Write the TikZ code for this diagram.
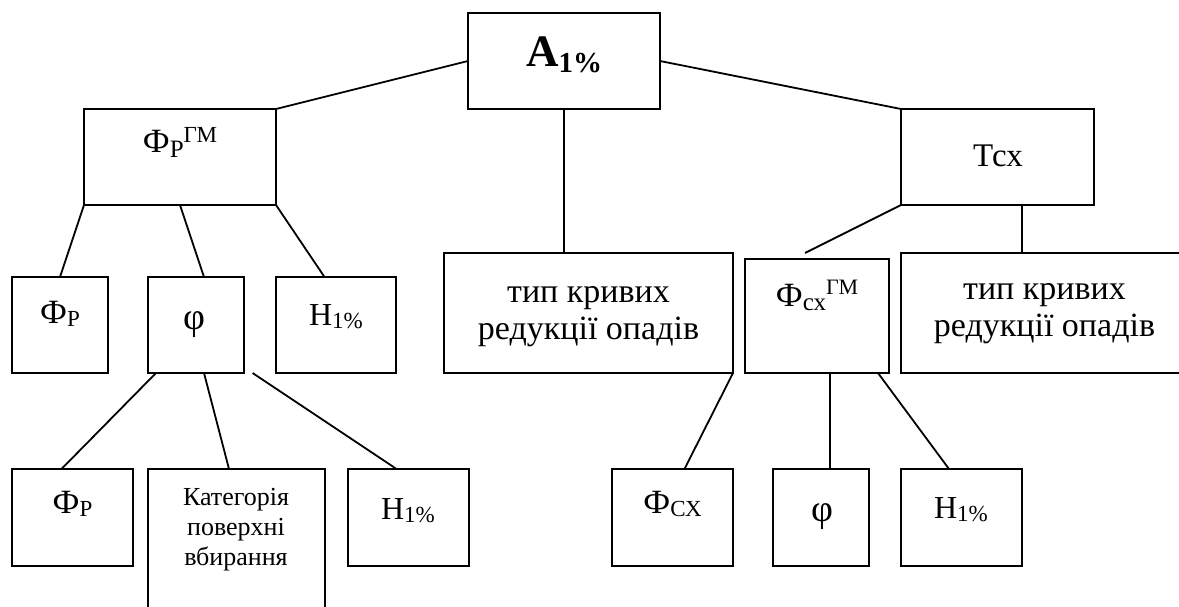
\documentclass[tikz,border=0pt]{standalone}
\usepackage{fontspec}
\setmainfont{Liberation Serif}
\newcommand{\fs}[1]{\fontsize{#1}{#1}\selectfont}
\newcommand{\fsb}[2]{\fontsize{#1}{#2}\selectfont}
\begin{document}
\begin{tikzpicture}[x=1pt,y=-1pt,
  box/.style={draw,line width=1.8pt,inner sep=0pt,outer sep=0pt,rectangle},
  conn/.style={line width=1.8pt},
  txt/.style={inner sep=0pt,outer sep=0pt,anchor=base}]
\useasboundingbox[fill=white] (0,0) rectangle (1179,607);
% boxes
\node[box,minimum width=192pt,minimum height=96pt] (A) at (564,61) {};
\node[box,minimum width=192pt,minimum height=96pt] (phigm) at (180,157) {};
\node[box,minimum width=193pt,minimum height=96pt] (tcx) at (997.5,157) {};
\node[box,minimum width=96pt,minimum height=96pt] (fr1) at (60,325) {};
\node[box,minimum width=96pt,minimum height=96pt] (phi1) at (196,325) {};
\node[box,minimum width=120pt,minimum height=96pt] (h1) at (336,325) {};
\node[box,minimum width=289pt,minimum height=120pt] (tip1) at (588.5,313) {};
\node[box,minimum width=144pt,minimum height=114pt] (fcx) at (817,316) {};
\node[box,minimum width=289pt,minimum height=120pt] (tip2) at (1045.5,313) {};
\node[box,minimum width=121pt,minimum height=97pt] (fr2) at (72.5,517.5) {};
\node[box,minimum width=177pt,minimum height=156pt] (kat) at (236.5,547) {};
\node[box,minimum width=121pt,minimum height=97pt] (h2) at (408.5,517.5) {};
\node[box,minimum width=121pt,minimum height=97pt] (fcx2) at (672.5,517.5) {};
\node[box,minimum width=96pt,minimum height=97pt] (phi2) at (821,517.5) {};
\node[box,minimum width=121pt,minimum height=97pt] (h3) at (961.5,517.5) {};
% texts
\node[txt] (tA) at (564,67) {\fs{45}\bfseries A\raisebox{-6pt}{\fs{29}1\%}};
\node[txt] (tphigm) at (180,153) {\fs{34}Ф\raisebox{-5pt}{\fs{25}Р}\raisebox{10pt}{\fs{23}ГМ}};
\node[txt] (ttcx) at (998,167) {\fs{33}Тсх};
\node[txt] (ttip1) at (588.5,302) {\fsb{34}{37}\begin{tabular}[t]{@{}c@{}}тип кривих\\редукції опадів\end{tabular}};
\node[txt] (ttip2) at (1044.5,299) {\fsb{34}{37}\begin{tabular}[t]{@{}c@{}}тип кривих\\редукції опадів\end{tabular}};
\node[txt] (tfcx) at (817,306) {\fs{34}Ф\raisebox{-4pt}{\fs{25}сх}\raisebox{12pt}{\fs{22}ГМ}};
\node[txt] (tfr1) at (60,323) {\fs{34}Ф\raisebox{-3pt}{\fs{23}Р}};
\node[txt] (tphi1) at (194,329) {\fs{38}φ};
\node[txt] (th1) at (336,325) {\fs{32}Н\raisebox{-3pt}{\fs{23}1\%}};
\node[txt] (tfr2) at (72.5,513) {\fs{34}Ф\raisebox{-3pt}{\fs{23}Р}};
\node[txt] (tkat) at (236,505) {\fsb{26}{30}\begin{tabular}[t]{@{}c@{}}Категорія\\поверхні\\вбирання\end{tabular}};
\node[txt] (th2) at (408,519) {\fs{32}Н\raisebox{-3pt}{\fs{23}1\%}};
\node[txt] (tfcx2) at (672.5,513) {\fs{34}Ф\raisebox{-3pt}{\fs{23}СХ}};
\node[txt] (tphi2) at (822,521) {\fs{38}φ};
\node[txt] (th3) at (961,518) {\fs{32}Н\raisebox{-3pt}{\fs{23}1\%}};
% connectors
\draw[conn] (A.west) -- (phigm.north east);
\draw[conn] (A.east) -- (tcx.north west);
\draw[conn] (A.south) -- (A.south |- tip1.north);
\draw[conn] (phigm.south west) -- (fr1.north);
\draw[conn] (phigm.south) -- ([xshift=8pt]phi1.north);
\draw[conn] (phigm.south east) -- ([xshift=-11.5pt]h1.north);
\draw[conn] ([xshift=8pt]phi1.south west) -- ([xshift=-11pt]fr2.north);
\draw[conn] ([xshift=8pt]phi1.south) -- ([xshift=-7.5pt]kat.north);
\draw[conn] ([xshift=8.6pt]phi1.south east) -- ([xshift=-12pt]h2.north);
\draw[conn] (tcx.south west) -- ([shift={(-12pt,6pt)}]fcx.north);
\draw[conn] ([xshift=24.5pt]tcx.south) -- ([xshift=24.5pt]tcx.south |- tip2.north);
\draw[conn] (tip1.south east) -- ([xshift=12pt]fcx2.north);
\draw[conn] ([xshift=9pt]phi2.north |- fcx.south) -- ([xshift=9pt]phi2.north);
\draw[conn] ([xshift=-11pt]fcx.south east) -- ([xshift=-12.5pt]h3.north);
\end{tikzpicture}
\end{document}
